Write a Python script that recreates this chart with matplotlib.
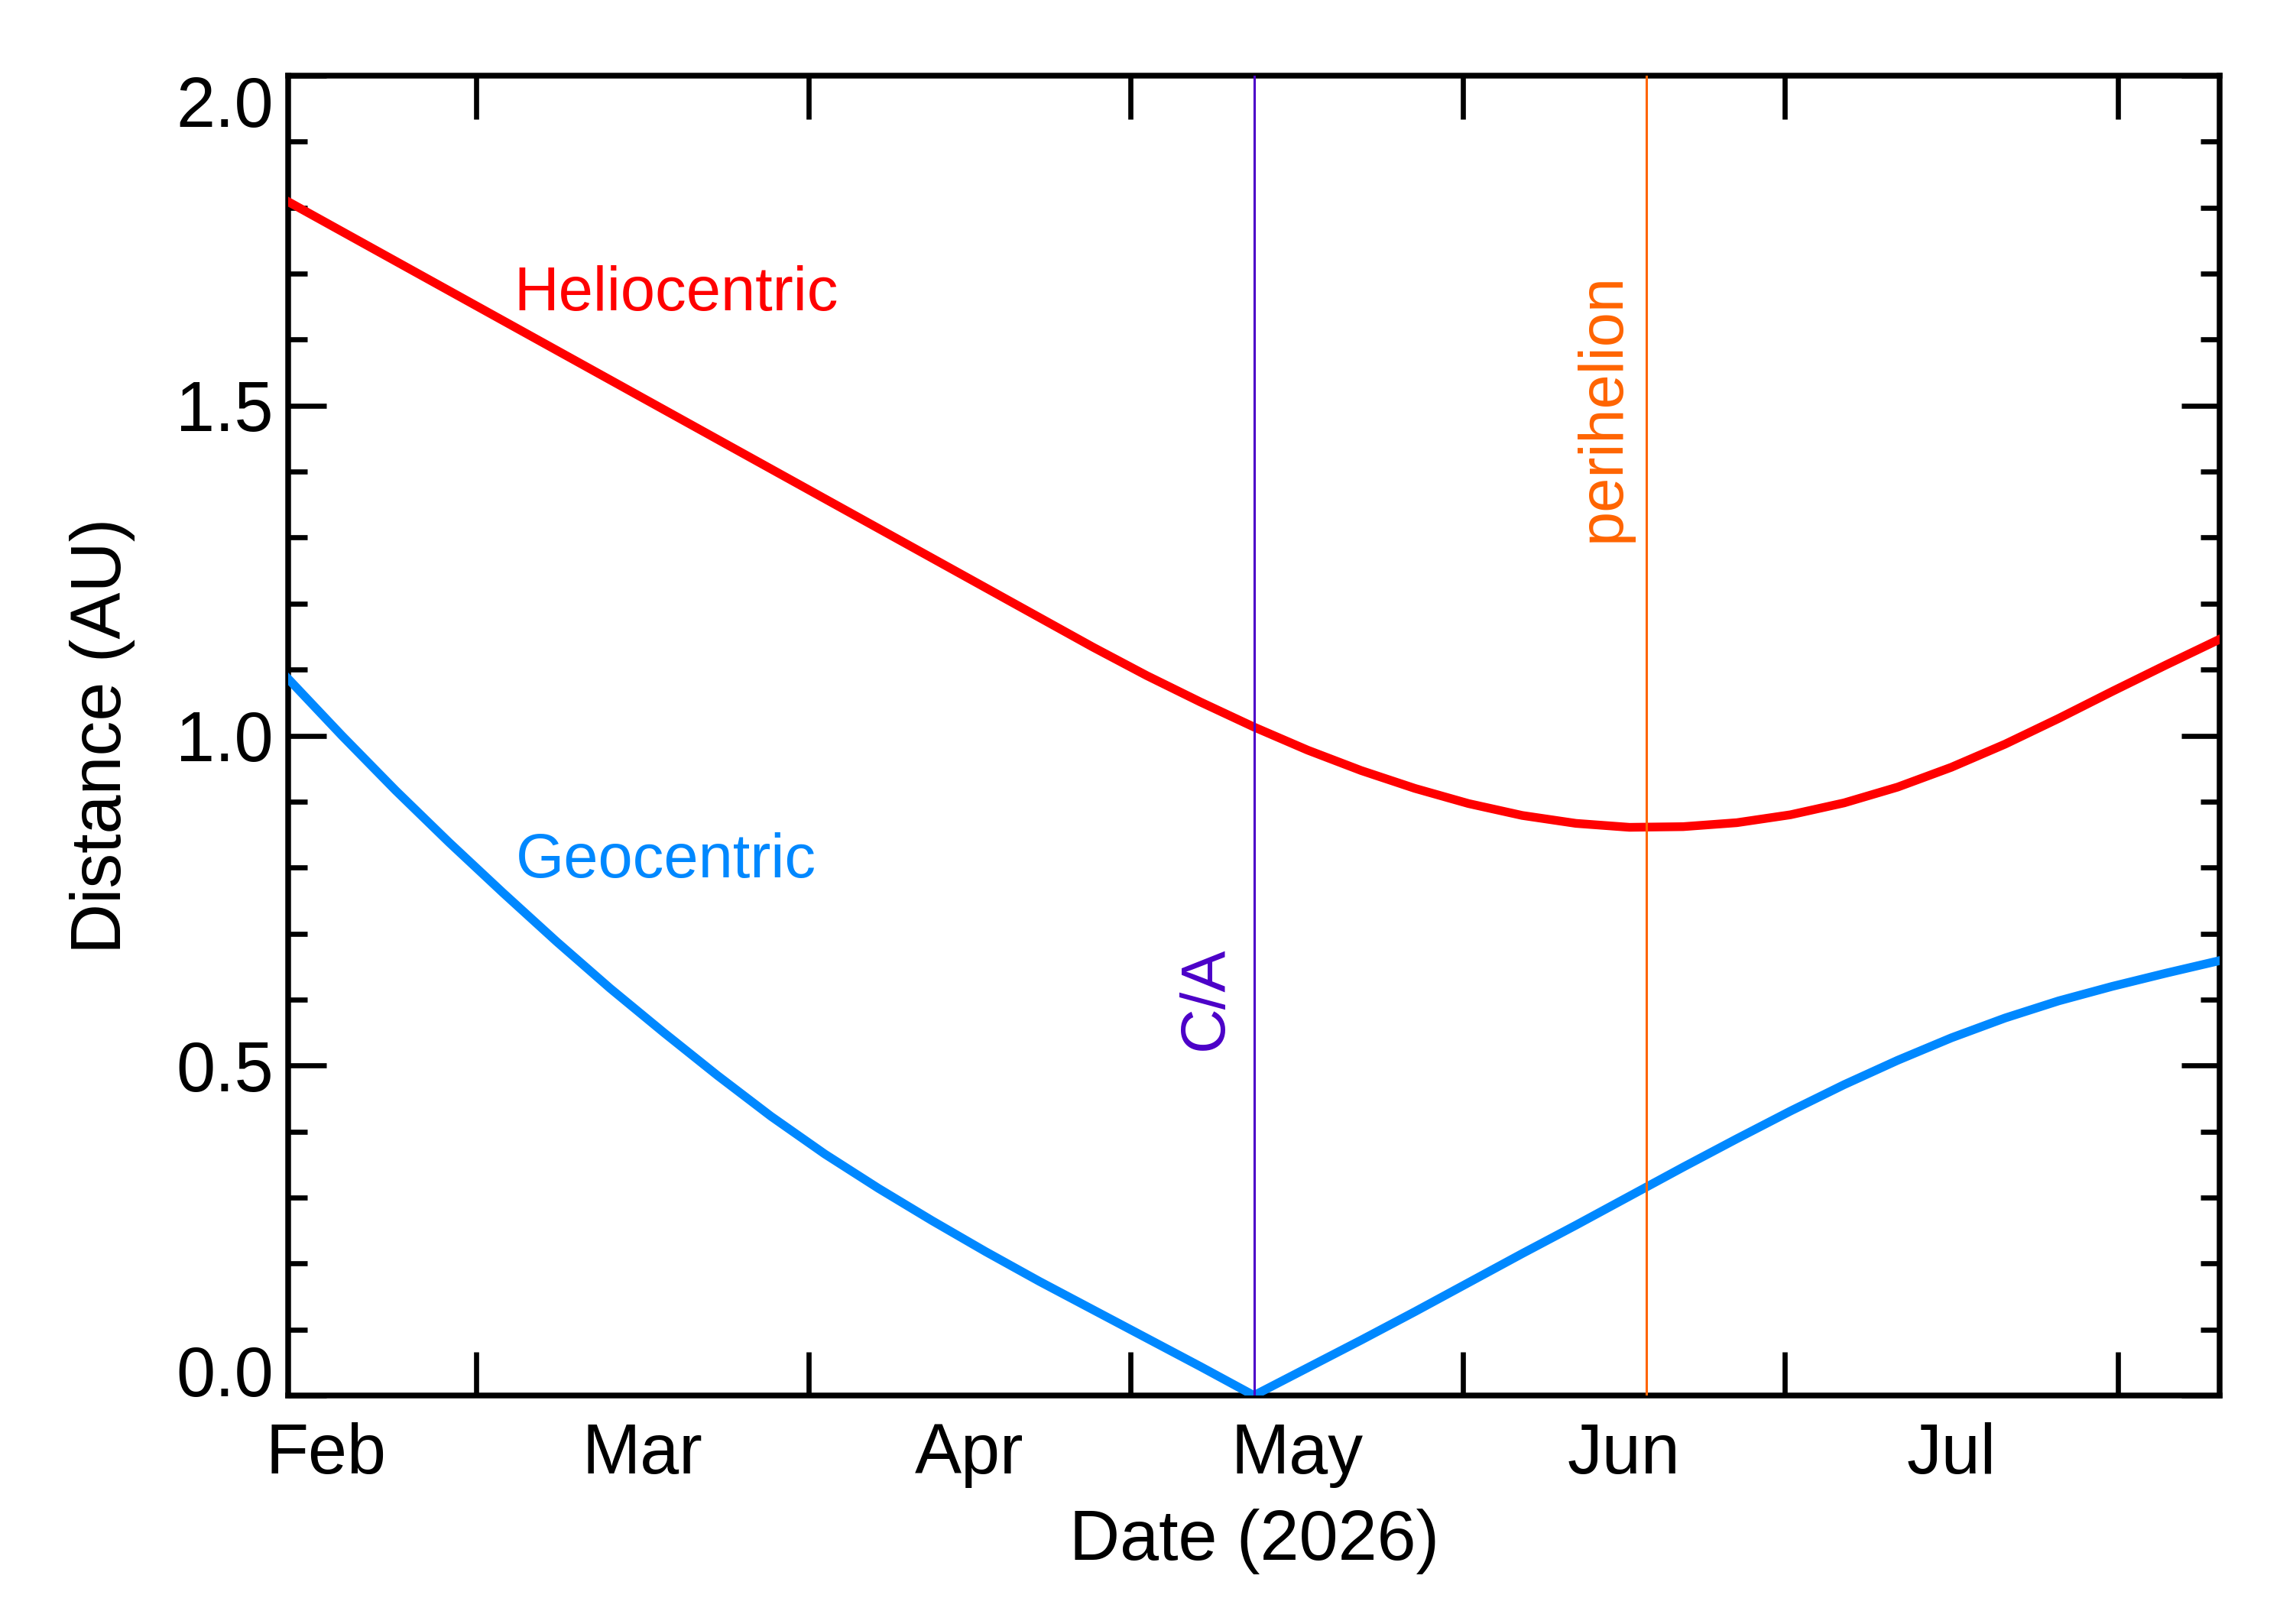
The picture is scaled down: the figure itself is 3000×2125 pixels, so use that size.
import datetime as dt
import numpy as np
import matplotlib
matplotlib.use("Agg")
import matplotlib.pyplot as plt
import matplotlib.dates as mdates
from matplotlib.ticker import FixedLocator, NullFormatter, FormatStrFormatter
from matplotlib.transforms import ScaledTranslation

plt.rcParams['font.family'] = ['Liberation Sans', 'DejaVu Sans']

# ---------------- data ----------------
ca_date = dt.datetime(2026, 5, 12, 12)
peri_date = dt.datetime(2026, 6, 18, 2)

day_offsets = [-90, -85, -80, -75, -70, -65, -60, -55, -50, -45, -40, -35, -30,
               -25, -20, -15, -10, -5, 0, 5, 10, 15, 20, 25, 30, 35, 40, 45,
               50, 55, 60, 65, 70, 75, 80, 85, 90]
helio_au = [1.809, 1.764, 1.719, 1.674, 1.629, 1.584, 1.539, 1.494, 1.449,
            1.404, 1.359, 1.314, 1.269, 1.224, 1.179, 1.134, 1.091, 1.051,
            1.013, 0.978, 0.947, 0.920, 0.897, 0.879, 0.867, 0.861, 0.862,
            0.868, 0.880, 0.898, 0.922, 0.952, 0.987, 1.026, 1.067, 1.107,
            1.146]
geo_au = [1.086, 1.000, 0.917, 0.838, 0.762, 0.688, 0.617, 0.550, 0.485,
          0.423, 0.366, 0.314, 0.265, 0.218, 0.173, 0.130, 0.087, 0.044,
          0.000, 0.042, 0.084, 0.127, 0.171, 0.215, 0.258, 0.302, 0.346,
          0.389, 0.431, 0.471, 0.508, 0.542, 0.572, 0.598, 0.620, 0.640,
          0.659]
month_starts = [dt.datetime(2026, m, 1) for m in range(2, 10)]
y_major = [0.0, 0.5, 1.0, 1.5, 2.0]

x_label = "Date (2026)"
y_label = "Distance (AU)"

# ---------------- figure ----------------
fig = plt.figure(figsize=(30, 21.25), dpi=100)
ax = fig.add_axes([0.1257, 0.1407, 0.968 - 0.1257, 0.9534 - 0.1407])

ca_num = mdates.date2num(ca_date)
peri_num = mdates.date2num(peri_date)
xs = [mdates.date2num(ca_date + dt.timedelta(days=d)) for d in day_offsets]

RED = '#FF0000'
BLUE = '#0088FF'
PURPLE = '#4B00C8'
ORANGE = '#FF6400'

ax.plot(xs, helio_au, color=RED, lw=8.2, zorder=3)
ax.plot(xs, geo_au, color=BLUE, lw=8.2, zorder=3)
ax.axvline(ca_num, color=PURPLE, lw=2.2, zorder=4)
ax.axvline(peri_num, color=ORANGE, lw=2.2, zorder=4)

ax.xaxis_date()
ax.set_xlim(mdates.date2num(ca_date - dt.timedelta(days=90)),
            mdates.date2num(ca_date + dt.timedelta(days=90)))
ax.set_ylim(0, 2)

# x ticks: month starts (unlabelled), month centres (labelled)
ax.xaxis.set_major_locator(FixedLocator(mdates.date2num(month_starts)))
ax.xaxis.set_major_formatter(NullFormatter())
mids = [mdates.date2num(month_starts[i]) +
        (mdates.date2num(month_starts[i + 1]) - mdates.date2num(month_starts[i])) / 2
        for i in range(len(month_starts) - 1)]
ax.xaxis.set_minor_locator(FixedLocator(mids))
ax.xaxis.set_minor_formatter(mdates.DateFormatter('%b'))

ax.yaxis.set_major_locator(FixedLocator(y_major))
ax.yaxis.set_minor_locator(FixedLocator(np.round(np.arange(0, 2.001, 0.1), 2)))
ax.yaxis.set_major_formatter(FormatStrFormatter('%.1f'))

ax.tick_params(axis='x', which='major', direction='in', length=41, width=4.8,
               top=True, bottom=True, labelbottom=False)
ax.tick_params(axis='x', which='minor', length=0, width=0, pad=25,
               labelsize=66, bottom=True, top=False)
ax.tick_params(axis='y', which='major', direction='in', length=36, width=4.8,
               left=True, right=True, labelsize=66, pad=14)
ax.tick_params(axis='y', which='minor', direction='in', length=18, width=4.8,
               left=True, right=True)

for s in ax.spines.values():
    s.set_linewidth(5.4)

ax.set_xlabel(x_label, fontsize=66)
ax.set_ylabel(y_label, fontsize=66)
ax.xaxis.set_label_coords(0.5, -0.0857)
ax.yaxis.set_label_coords(-0.0791, 0.5)

# annotations
ax.text(mdates.date2num(ca_date - dt.timedelta(days=69.0)), 1.645, 'Heliocentric',
        color=RED, fontsize=58.5, ha='left', va='baseline')
ax.text(mdates.date2num(ca_date - dt.timedelta(days=68.8)), 0.785, 'Geocentric',
        color=BLUE, fontsize=58.5, ha='left', va='baseline')
ax.text(mdates.date2num(ca_date - dt.timedelta(days=3.0)), 0.523, 'C/A',
        color=PURPLE, fontsize=58.5, rotation=90, rotation_mode='anchor',
        ha='left', va='baseline')
ax.text(mdates.date2num(peri_date - dt.timedelta(days=2.5)), 1.294, 'perihelion',
        color=ORANGE, fontsize=58.5, rotation=90, rotation_mode='anchor',
        ha='left', va='baseline')

# shift end labels of y axis inward (as in reference)
yt = ax.yaxis.get_major_ticks()
yt[0].label1.set_transform(yt[0].label1.get_transform() +
                           ScaledTranslation(0, 0.33, fig.dpi_scale_trans))
yt[-1].label1.set_transform(yt[-1].label1.get_transform() +
                            ScaledTranslation(0, -0.33, fig.dpi_scale_trans))

fig.savefig('out.png', dpi=100)
